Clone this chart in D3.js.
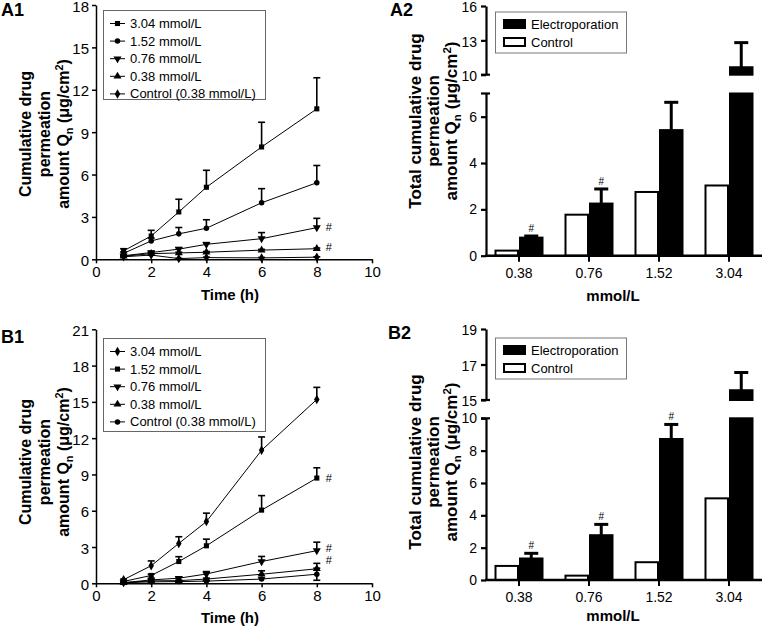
<!DOCTYPE html>
<html><head><meta charset="utf-8">
<script src="https://cdn.jsdelivr.net/npm/d3@7"></script>
<style>
body{margin:0;background:#fff}
svg{display:block}
text{font-family:"Liberation Sans",Arial,Helvetica,sans-serif;fill:#000}
</style>
</head><body>
<svg id="chart" width="762" height="627"></svg>
<script>
// ---------- DATA ----------
const times = [1, 2, 3, 4, 6, 8];
const timeTicks = [0, 2, 4, 6, 8, 10];
const a1YTicks = [0, 3, 6, 9, 12, 15, 18];
const b1YTicks = [0, 3, 6, 9, 12, 15, 18, 21];

const lineLabels = ["3.04 mmol/L", "1.52 mmol/L", "0.76 mmol/L", "0.38 mmol/L", "Control (0.38 mmol/L)"];

// A1 values and error (upper) per series
const a1_304 = [0.60, 1.65, 3.35, 5.10, 7.95, 10.65];
const a1_304e = [0.15, 0.40, 0.90, 1.20, 1.75, 2.20];
const a1_152 = [0.42, 1.30, 1.80, 2.20, 4.00, 5.42];
const a1_152e = [0.10, 0.20, 0.45, 0.60, 1.00, 1.22];
const a1_076 = [0.25, 0.48, 0.72, 1.06, 1.46, 2.24];
const a1_076e = [0.05, 0.08, 0.10, 0.12, 0.43, 0.66];
const a1_038 = [0.22, 0.40, 0.45, 0.50, 0.65, 0.75];
const a1_038e = [0.03, 0.05, 0.05, 0.05, 0.05, 0.05];
const a1_ctl = [0.18, 0.30, 0.05, 0.12, 0.10, 0.15];
const a1_ctle = [0.02, 0.03, 0.02, 0.03, 0.03, 0.03];
const a1HashValues = [2.30, 0.85];

// B1
const b1_304 = [0.30, 1.45, 3.30, 5.10, 11.00, 15.20];
const b1_304e = [0.05, 0.40, 0.55, 0.70, 1.10, 1.00];
const b1_152 = [0.15, 0.65, 1.80, 3.10, 6.05, 8.70];
const b1_152e = [0.05, 0.10, 0.40, 0.55, 1.20, 0.85];
const b1_076 = [0.05, 0.28, 0.42, 0.77, 1.80, 2.70];
const b1_076e = [0.02, 0.05, 0.10, 0.20, 0.42, 0.70];
const b1_038 = [0.05, 0.20, 0.22, 0.35, 0.75, 1.20];
const b1_038e = [0.02, 0.03, 0.05, 0.08, 0.28, 0.45];
const b1_ctl = [0.05, 0.12, 0.14, 0.18, 0.35, 0.75];
const b1_ctle = [0.01, 0.02, 0.03, 0.05, 0.10, 0.50];
const b1_ctleLow = [0, 0, 0, 0, 0, 0.50];
const b1HashValues = [8.70, 2.95, 1.95];

// A2 / B2 bar data
const concs = ["0.38", "0.76", "1.52", "3.04"];
const barLegend = ["Electroporation", "Control"];
const a2Control = [0.22, 1.77, 2.75, 3.03];
const a2Electro = [0.78, 2.25, 5.42, 10.65];
const a2ElectroErr = [0.07, 0.63, 1.20, 2.15];
const a2Hash = [true, true, false, false];
const a2LowTicks = [0, 2, 4, 6];
const a2UpTicks = [10, 13, 16];

const b2Control = [0.87, 0.27, 1.10, 5.05];
const b2Electro = [1.33, 2.77, 8.72, 15.55];
const b2ElectroErr = [0.32, 0.67, 0.90, 1.00];
const b2Hash = [true, true, true, false];
const b2LowTicks = [0, 2, 4, 6, 8, 10];
const b2UpTicks = [15, 17, 19];

// ---------- DRAW ----------
const svg = d3.select("#chart");
const FONT = '"Liberation Sans",Arial,Helvetica,sans-serif';
const intFmt = d3.format("d");

function symPath(kind) {
  const map = {
    square: d3.symbol(d3.symbolSquare, 26),
    circle: d3.symbol(d3.symbolCircle, 24),
    triangle: d3.symbol(d3.symbolTriangle, 28),
    triangleDown: d3.symbol(d3.symbolTriangle, 28),
    diamond: d3.symbol(d3.symbolDiamond, 26)
  };
  return map[kind]();
}
function drawMarker(g, kind, x, y) {
  g.append("path").attr("d", symPath(kind))
    .attr("transform", `translate(${x},${y})` + (kind === "triangleDown" ? " rotate(180)" : ""))
    .attr("fill", "#000");
}

function yTitle(xs, cy, lines, fs) {
  const mk = (x) => svg.append("text")
    .attr("transform", `translate(${x},${cy}) rotate(-90)`)
    .attr("text-anchor", "middle").attr("font-weight", "bold").attr("font-size", fs);
  mk(xs[0]).text(lines[0]);
  mk(xs[1]).text(lines[1]);
  const t = mk(xs[2]);
  t.append("tspan").text("amount Q");
  t.append("tspan").attr("font-size", fs * 0.68).attr("dy", 4).text("n");
  t.append("tspan").attr("dy", -4).text(" (\u03bcg/cm");
  t.append("tspan").attr("font-size", fs * 0.68).attr("dy", -6).text("2");
  t.append("tspan").attr("dy", 6).text(")");
}

function panelLabel(x, y, s) {
  svg.append("text").attr("x", x).attr("y", y).attr("font-weight", "bold").attr("font-size", 18).text(s);
}

function styleAxis(sel, fs, sw) {
  sel.selectAll("path.domain").attr("stroke", "#000").attr("stroke-width", sw);
  sel.selectAll(".tick line").attr("stroke", "#000").attr("stroke-width", sw);
  sel.selectAll(".tick text").attr("font-size", fs).attr("font-family", FONT).attr("fill", "#000");
}

function linePanel(cfg) {
  const x = d3.scaleLinear().domain([0, 10]).range([96, 372]);
  const y = d3.scaleLinear().domain([0, cfg.yMax]).range([cfg.y0, cfg.yTop]);
  const g = svg.append("g");

  const ax = g.append("g").attr("transform", `translate(0,${cfg.y0})`)
    .call(d3.axisBottom(x).tickValues(timeTicks).tickFormat(intFmt).tickSize(4).tickSizeOuter(0).tickPadding(3));
  styleAxis(ax, 15, 1.5);
  const ay = g.append("g").attr("transform", `translate(96,0)`)
    .call(d3.axisLeft(y).tickValues(cfg.yTicks).tickFormat(intFmt).tickSize(4).tickSizeOuter(0).tickPadding(3));
  styleAxis(ay, 15, 1.5);
  ay.selectAll(".tick text").attr("dy", "0.4em");

  const line = d3.line().x((d, i) => x(times[i])).y(d => y(d));
  cfg.series.forEach(s => {
    g.append("path").attr("d", line(s.v)).attr("fill", "none").attr("stroke", "#000").attr("stroke-width", 1);
  });
  cfg.series.forEach(s => {
    s.v.forEach((v, i) => {
      const xx = x(times[i]);
      const top = v + s.e[i];
      const low = s.lo ? v - s.lo[i] : v;
      g.append("line").attr("x1", xx).attr("x2", xx).attr("y1", y(low)).attr("y2", y(top))
        .attr("stroke", "#000").attr("stroke-width", 1.6);
      g.append("line").attr("x1", xx - 3.5).attr("x2", xx + 3.5).attr("y1", y(top)).attr("y2", y(top))
        .attr("stroke", "#000").attr("stroke-width", 1.6);
      if (s.lo && s.lo[i] > 0) {
        g.append("line").attr("x1", xx - 3.5).attr("x2", xx + 3.5).attr("y1", y(low)).attr("y2", y(low))
          .attr("stroke", "#000").attr("stroke-width", 1.6);
      }
    });
  });
  cfg.series.forEach(s => {
    s.v.forEach((v, i) => drawMarker(g, s.m, x(times[i]), y(v)));
  });
  cfg.hash.forEach(h => {
    g.append("text").attr("x", x(8) + 9).attr("y", y(h) + 4).attr("font-size", 11).text("#");
  });

  // legend
  const lg = g.append("g");
  lg.append("rect").attr("x", 103.5).attr("y", cfg.legY).attr("width", 162).attr("height", cfg.legH)
    .attr("fill", "#fff").attr("stroke", "#666").attr("stroke-width", 1);
  cfg.series.forEach((s, i) => {
    const yy = cfg.legY + 13 + i * 17.6;
    lg.append("line").attr("x1", 110).attr("x2", 125).attr("y1", yy).attr("y2", yy).attr("stroke", "#000").attr("stroke-width", 1);
    drawMarker(lg, s.m, 117.5, yy);
    lg.append("text").attr("x", 130).attr("y", yy + 4.5).attr("font-size", 13).text(lineLabels[i]);
  });

  svg.append("text").attr("x", 230).attr("y", cfg.xTitleY).attr("text-anchor", "middle")
    .attr("font-weight", "bold").attr("font-size", 15).text("Time (h)");
}

function barPanel(cfg) {
  const x = d3.scaleBand().domain(concs).range([484, 764]);
  const yLow = d3.scaleLinear().domain(cfg.lowDom).range(cfg.lowRange);
  const yUp = d3.scaleLinear().domain(cfg.upDom).range(cfg.upRange);
  const g = svg.append("g");
  const AX = 486;
  const bw = 22.5;
  const lowMax = cfg.lowDom[1], upMin = cfg.upDom[0];

  // bars
  cfg.ctrl.forEach((v, i) => {
    const c = x(concs[i]) + x.bandwidth() / 2;
    g.append("rect").attr("x", c - bw - 1).attr("y", yLow(v)).attr("width", bw).attr("height", yLow(0) - yLow(v))
      .attr("fill", "#fff").attr("stroke", "#000").attr("stroke-width", 2);
  });
  cfg.elec.forEach((v, i) => {
    const c = x(concs[i]) + x.bandwidth() / 2;
    const ex = c + 1;
    let sc;
    if (v <= lowMax) {
      g.append("rect").attr("x", ex).attr("y", yLow(v)).attr("width", bw).attr("height", yLow(0) - yLow(v))
        .attr("fill", "#000").attr("stroke", "#000").attr("stroke-width", 2);
      sc = yLow;
    } else {
      g.append("rect").attr("x", ex).attr("y", yLow(lowMax)).attr("width", bw).attr("height", yLow(0) - yLow(lowMax))
        .attr("fill", "#000").attr("stroke", "#000").attr("stroke-width", 2);
      g.append("rect").attr("x", ex).attr("y", yUp(v)).attr("width", bw).attr("height", yUp(upMin) - yUp(v))
        .attr("fill", "#000").attr("stroke", "#000").attr("stroke-width", 2);
      sc = yUp;
    }
    const topY = sc(v), errY = sc(v + cfg.err[i]);
    const cx = ex + bw / 2;
    g.append("line").attr("x1", cx).attr("x2", cx).attr("y1", topY).attr("y2", errY).attr("stroke", "#000").attr("stroke-width", 3);
    g.append("line").attr("x1", cx - 7).attr("x2", cx + 7).attr("y1", errY).attr("y2", errY).attr("stroke", "#000").attr("stroke-width", 3);
    if (cfg.hash[i]) {
      g.append("text").attr("x", cx).attr("y", errY - 4).attr("text-anchor", "middle").attr("font-size", 10).text("#");
    }
  });

  // x axis
  g.append("line").attr("x1", AX - 1).attr("x2", 762).attr("y1", yLow(0)).attr("y2", yLow(0)).attr("stroke", "#000").attr("stroke-width", 2.5);
  concs.forEach(c => {
    const cx = x(c) + x.bandwidth() / 2;
    g.append("line").attr("x1", cx).attr("x2", cx).attr("y1", yLow(0)).attr("y2", yLow(0) + 6).attr("stroke", "#000").attr("stroke-width", 2);
    g.append("text").attr("x", cx).attr("y", yLow(0) + 22).attr("text-anchor", "middle").attr("font-size", 14).text(c);
  });

  // y axis segments
  const al = g.append("g").attr("transform", `translate(${AX},0)`)
    .call(d3.axisLeft(yLow).tickValues(cfg.lowTicks).tickFormat(intFmt).tickSize(5).tickSizeOuter(0).tickPadding(4));
  styleAxis(al, 14, 2.2);
  const au = g.append("g").attr("transform", `translate(${AX},0)`)
    .call(d3.axisLeft(yUp).tickValues(cfg.upTicks).tickFormat(intFmt).tickSize(5).tickSizeOuter(0).tickPadding(4));
  styleAxis(au, 14, 2.2);
  au.selectAll(".tick text").attr("dy", "0.42em");
  [yLow(lowMax), yUp(upMin)].forEach(yy => {
    g.append("line").attr("x1", AX - 5).attr("x2", AX + 4).attr("y1", yy).attr("y2", yy).attr("stroke", "#000").attr("stroke-width", 2.2);
  });

  // legend
  const ly = cfg.legY;
  g.append("rect").attr("x", 495.5).attr("y", ly).attr("width", 131).attr("height", 41)
    .attr("fill", "#fff").attr("stroke", "#777").attr("stroke-width", 1);
  g.append("rect").attr("x", 503).attr("y", ly + 7).attr("width", 23).attr("height", 10).attr("fill", "#000");
  g.append("rect").attr("x", 504).attr("y", ly + 26).attr("width", 21).attr("height", 8).attr("fill", "#fff").attr("stroke", "#000").attr("stroke-width", 2);
  g.append("text").attr("x", 531).attr("y", ly + 17).attr("font-size", 13).text(barLegend[0]);
  g.append("text").attr("x", 531).attr("y", ly + 35).attr("font-size", 13).text(barLegend[1]);

  svg.append("text").attr("x", 613).attr("y", cfg.xTitleY).attr("text-anchor", "middle")
    .attr("font-weight", "bold").attr("font-size", 15).text("mmol/L");
}

// ---- A1 ----
linePanel({
  yMax: 18, y0: 259.3, yTop: 5, yTicks: a1YTicks, legY: 10.5, legH: 89, xTitleY: 300,
  hash: a1HashValues,
  series: [
    { v: a1_304, e: a1_304e, m: "square" },
    { v: a1_152, e: a1_152e, m: "circle" },
    { v: a1_076, e: a1_076e, m: "triangleDown" },
    { v: a1_038, e: a1_038e, m: "triangle" },
    { v: a1_ctl, e: a1_ctle, m: "diamond" }
  ]
});
// ---- B1 ----
linePanel({
  yMax: 21, y0: 583.3, yTop: 329.3, yTicks: b1YTicks, legY: 338.5, legH: 93, xTitleY: 623,
  hash: b1HashValues,
  series: [
    { v: b1_304, e: b1_304e, m: "diamond" },
    { v: b1_152, e: b1_152e, m: "square" },
    { v: b1_076, e: b1_076e, m: "triangleDown" },
    { v: b1_038, e: b1_038e, m: "triangle" },
    { v: b1_ctl, e: b1_ctle, lo: b1_ctleLow, m: "circle" }
  ]
});
// ---- A2 ----
barPanel({
  lowDom: [0, 7], lowRange: [255.7, 93.5], upDom: [10, 16], upRange: [74.7, 6],
  lowTicks: a2LowTicks, upTicks: a2UpTicks,
  ctrl: a2Control, elec: a2Electro, err: a2ElectroErr, hash: a2Hash, legY: 12, xTitleY: 301
});
// ---- B2 ----
barPanel({
  lowDom: [0, 10], lowRange: [580, 418.3], upDom: [15, 19], upRange: [400, 329],
  lowTicks: b2LowTicks, upTicks: b2UpTicks,
  ctrl: b2Control, elec: b2Electro, err: b2ElectroErr, hash: b2Hash, legY: 338, xTitleY: 621
});

// titles and panel labels
yTitle([31, 50, 69], 134, ["Cumulative drug", "permeation"], 16);
yTitle([31, 50, 69], 462, ["Cumulative drug", "permeation"], 16);
yTitle([421, 439, 457], 121, ["Total cumulative drug", "permeation"], 17);
yTitle([421, 439, 457], 462, ["Total cumulative drug", "permeation"], 17);
panelLabel(1, 16, "A1");
panelLabel(1, 343, "B1");
panelLabel(390, 16, "A2");
panelLabel(388, 339, "B2");
</script>
</body></html>
